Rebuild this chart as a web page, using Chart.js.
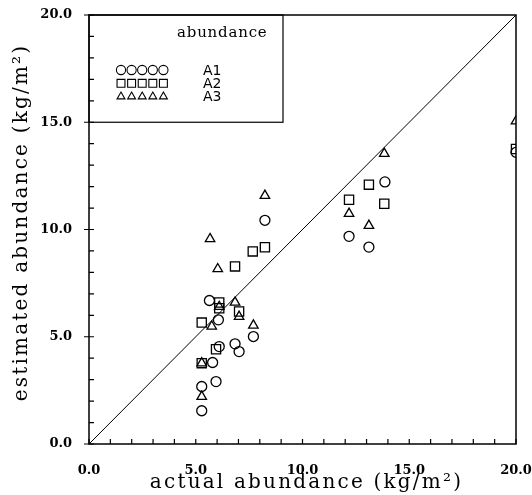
<!DOCTYPE html>
<html>
<head>
<meta charset="utf-8">
<script src="https://cdn.jsdelivr.net/npm/chart.js@4/dist/chart.umd.min.js"></script>
<style>
  html, body { margin: 0; padding: 0; background: #fff; }
  #wrap { width: 532px; height: 495px; }
</style>
</head>
<body>
<div id="wrap"><canvas id="c" width="532" height="495"></canvas></div>
<script>
// Actual vs. estimated abundance (kg/m²) for the three estimates A1, A2, A3
const a1Actual    = [5.28, 5.28, 5.95, 5.79, 6.10, 6.84, 7.03, 7.70, 6.06, 5.64, 8.24, 12.18, 13.11, 13.86, 20.0];
const a1Estimated = [1.55, 2.68, 2.91, 3.80, 4.54, 4.67, 4.31, 5.01, 5.79, 6.69, 10.43, 9.68, 9.18, 12.22, 13.60];

const a2Actual    = [5.28, 5.95, 5.28, 6.10, 6.10, 7.03, 6.84, 7.67, 8.24, 12.18, 13.11, 13.83, 20.0];
const a2Estimated = [3.77, 4.42, 5.66, 6.60, 6.33, 6.18, 8.28, 8.98, 9.17, 11.39, 12.09, 11.20, 13.75];

const a3Actual    = [5.28, 5.28, 5.75, 6.10, 6.84, 7.03, 7.70, 6.03, 5.67, 8.24, 12.18, 13.11, 13.83, 20.0];
const a3Estimated = [2.21, 3.77, 5.48, 6.40, 6.60, 5.94, 5.53, 8.16, 9.56, 11.58, 10.74, 10.18, 13.54, 15.05];

const seriesNames  = ['A1', 'A2', 'A3'];
const seriesShapes = ['circle', 'rect', 'triangle'];
const axisRange    = [0, 20];
const majorTicks   = [0, 5, 10, 15, 20];

const legendTitle = 'abundance';
const xTitle = 'actual abundance (kg/m\u00B2)';
const yTitle = 'estimated abundance (kg/m\u00B2)';

const pts = (xs, ys) => xs.map((x, i) => ({ x: x, y: ys[i] }));
const shapeRadius = { circle: 5, rect: 6.5, triangle: 5.5 };

const tickFont = { family: 'DejaVu Serif', size: 13, weight: 'bold' };

// frame, inward ticks, legend box and axis titles
const decor = {
  id: 'decor',
  afterDraw(chart) {
    const ctx = chart.ctx;
    const a = chart.chartArea;
    const xs = chart.scales.x, ys = chart.scales.y;
    ctx.save();
    ctx.strokeStyle = '#000';
    ctx.lineWidth = 1.5;
    ctx.strokeRect(a.left, a.top, a.right - a.left, a.bottom - a.top);

    ctx.lineWidth = 1.2;
    ctx.beginPath();
    for (let v = axisRange[0]; v <= axisRange[1]; v++) {
      const px = xs.getPixelForValue(v);
      ctx.moveTo(px, a.bottom);
      ctx.lineTo(px, a.bottom - 5);
      const py = ys.getPixelForValue(v);
      ctx.moveTo(a.left + 5, py);
      ctx.lineTo(majorTicks.includes(v) ? a.left - 5 : a.left, py);
    }
    ctx.stroke();

    // legend
    const lx = a.left, ly = a.top;
    const lr = lx + 194, lb = ys.getPixelForValue(15);
    ctx.lineWidth = 1.2;
    ctx.strokeRect(lx, ly, lr - lx, lb - ly);
    ctx.fillStyle = '#000';
    ctx.font = '15px "DejaVu Serif"';
    ctx.letterSpacing = '0.8px';
    ctx.textAlign = 'left';
    ctx.textBaseline = 'middle';
    ctx.fillText(legendTitle, lx + 88, ly + 18);
    ctx.letterSpacing = '0px';
    ctx.font = '14px "DejaVu Sans"';
    seriesNames.forEach((name, i) => {
      const cy = ly + 55 + i * 13.3;
      ctx.fillStyle = 'rgba(0,0,0,0)';
      ctx.strokeStyle = '#000';
      ctx.lineWidth = 1.1;
      for (let k = 0; k < 5; k++) {
        Chart.helpers.drawPoint(ctx, {
          pointStyle: seriesShapes[i],
          radius: seriesShapes[i] === 'rect' ? 5.6 : 4.6,
          rotation: 0,
          borderWidth: 1.1
        }, lx + 32 + k * 10.6, cy);
      }
      ctx.fillStyle = '#000';
      ctx.fillText(name, lx + 114, cy + 1);
    });

    // axis titles
    ctx.fillStyle = '#000';
    ctx.font = '20px "DejaVu Serif"';
    ctx.letterSpacing = '2.2px';
    ctx.textAlign = 'center';
    ctx.textBaseline = 'alphabetic';
    ctx.fillText(xTitle, (a.left + a.right) / 2 + 4, 488);
    ctx.save();
    ctx.translate(27, (a.top + a.bottom) / 2 - 7);
    ctx.rotate(-Math.PI / 2);
    ctx.fillText(yTitle, 0, 0);
    ctx.restore();
    ctx.restore();
  }
};

const markDataset = (i, data) => ({
  label: seriesNames[i],
  data: data,
  pointStyle: seriesShapes[i],
  pointRadius: shapeRadius[seriesShapes[i]],
  pointHoverRadius: shapeRadius[seriesShapes[i]],
  borderColor: '#000',
  backgroundColor: 'rgba(0,0,0,0)',
  pointBorderWidth: 1.3,
  showLine: false
});

new Chart(document.getElementById('c'), {
  type: 'scatter',
  data: {
    datasets: [
      {
        label: '1:1',
        data: [{ x: axisRange[0], y: axisRange[0] }, { x: axisRange[1], y: axisRange[1] }],
        showLine: true,
        borderColor: '#000',
        borderWidth: 1,
        pointRadius: 0,
        pointHoverRadius: 0
      },
      markDataset(0, pts(a1Actual, a1Estimated)),
      markDataset(1, pts(a2Actual, a2Estimated)),
      markDataset(2, pts(a3Actual, a3Estimated))
    ]
  },
  options: {
    responsive: false,
    animation: false,
    layout: { padding: { left: 0, top: 15, right: 16, bottom: 0 } },
    plugins: { legend: { display: false }, tooltip: { enabled: false } },
    scales: {
      x: {
        type: 'linear',
        min: axisRange[0], max: axisRange[1],
        grid: { display: false },
        border: { display: false },
        ticks: {
          stepSize: 1, autoSkip: false, maxRotation: 0,
          color: '#000', font: tickFont, padding: 11,
          callback: v => (majorTicks.includes(v) ? v.toFixed(1) : '')
        },
        afterFit: s => { s.height = 51; s.paddingLeft = 0; s.paddingRight = 0; }
      },
      y: {
        type: 'linear',
        min: axisRange[0], max: axisRange[1],
        grid: { display: false },
        border: { display: false },
        ticks: {
          stepSize: 1, autoSkip: false,
          color: '#000', font: tickFont, padding: 9,
          callback: v => (majorTicks.includes(v) ? v.toFixed(1) : '')
        },
        afterFit: s => { s.width = 89; s.paddingTop = 0; s.paddingBottom = 0; }
      }
    }
  },
  plugins: [decor]
});
</script>
</body>
</html>
